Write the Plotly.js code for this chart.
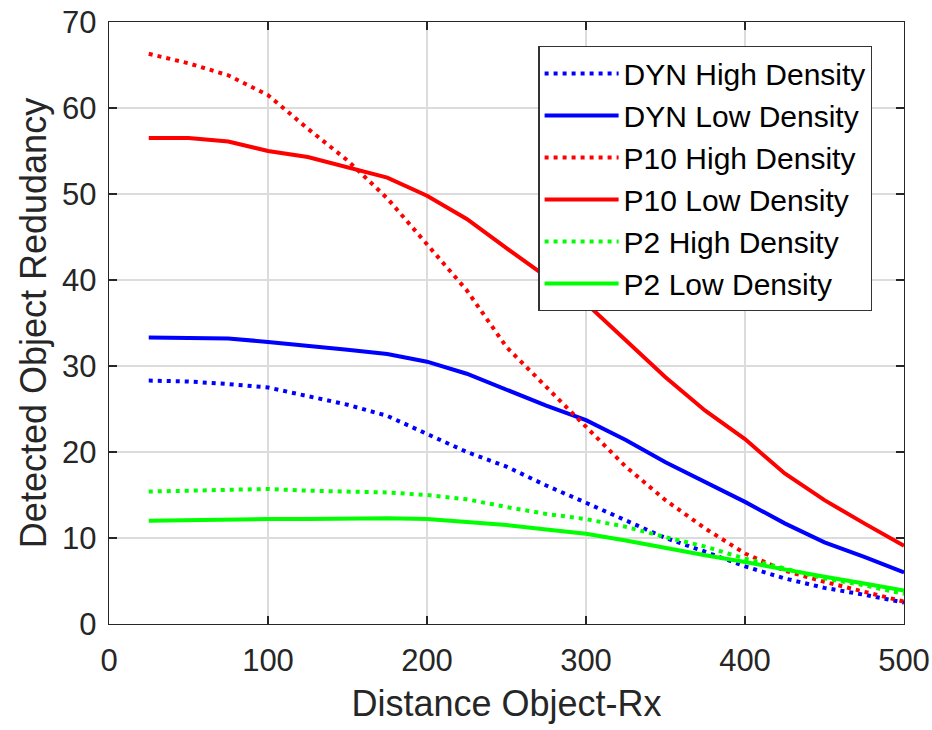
<!DOCTYPE html>
<html>
<head>
<meta charset="utf-8">
<script src="https://cdn.plot.ly/plotly-3.0.1.min.js"></script>
<style>html,body{margin:0;padding:0;background:#fff;}#chart{width:932px;height:730px;}</style>
</head>
<body>
<div id="chart"></div>
<script>
const distance = [25, 50, 75, 100, 125, 150, 175, 200, 225, 250, 275, 300, 325, 350, 375, 400, 425, 450, 475, 500];
const dynHigh = [28.3, 28.2, 27.9, 27.5, 26.5, 25.5, 24.2, 22.1, 20.0, 18.3, 16.1, 14.1, 12.1, 10.0, 8.4, 6.7, 5.3, 4.2, 3.4, 2.5];
const dynLow  = [33.3, 33.3, 33.2, 32.8, 32.4, 31.9, 31.4, 30.5, 29.1, 27.2, 25.4, 23.7, 21.4, 18.8, 16.5, 14.2, 11.7, 9.5, 7.8, 6.0];
const p10High = [66.3, 65.2, 63.8, 61.5, 57.6, 53.9, 49.5, 44.2, 38.8, 32.2, 27.6, 22.9, 18.3, 14.4, 11.1, 8.2, 6.2, 4.9, 3.7, 2.6];
const p10Low  = [56.5, 56.5, 56.1, 55.0, 54.3, 53.1, 51.9, 49.8, 47.1, 43.7, 40.4, 37.3, 33.0, 28.7, 24.8, 21.5, 17.5, 14.4, 11.7, 9.1];
const p2High  = [15.4, 15.5, 15.6, 15.7, 15.5, 15.4, 15.3, 15.0, 14.5, 13.6, 12.8, 12.2, 11.3, 10.1, 9.0, 7.6, 6.4, 5.3, 4.5, 3.5];
const p2Low   = [12.0, 12.1, 12.2, 12.2, 12.2, 12.3, 12.3, 12.2, 11.9, 11.5, 11.0, 10.5, 9.7, 8.8, 8.0, 7.2, 6.3, 5.5, 4.7, 3.9];
const seriesNames = ['DYN High Density', 'DYN Low Density', 'P10 High Density', 'P10 Low Density', 'P2 High Density', 'P2 Low Density'];
const xTickVals = [0, 100, 200, 300, 400, 500];
const yTickVals = [0, 10, 20, 30, 40, 50, 60, 70];

const seriesData = [dynHigh, dynLow, p10High, p10Low, p2High, p2Low];
const colors = ['#0000ff', '#0000ff', '#ff0000', '#ff0000', '#00ff00', '#00ff00'];
const dashes = ['4px,5px', 'solid', '4px,5px', 'solid', '4px,5px', 'solid'];

const traces = seriesData.map((ys, i) => ({
  x: distance, y: ys, name: seriesNames[i], type: 'scatter', mode: 'lines',
  line: {color: colors[i], width: 4, dash: dashes[i]}
}));

const FONT = 'Liberation Sans, Arial, Helvetica, sans-serif';
const TXT = '#262626';
const layout = {
  width: 932, height: 730,
  margin: {l: 109, r: 28, t: 22, b: 106},
  paper_bgcolor: '#ffffff', plot_bgcolor: '#ffffff',
  font: {family: FONT, color: TXT, size: 31},
  showlegend: true,
  legend: {
    x: 0.540, y: 0.960, xanchor: 'left', yanchor: 'top',
    bgcolor: '#ffffff', bordercolor: '#333333', borderwidth: 1.3,
    font: {family: FONT, size: 30, color: '#000000'},
    itemwidth: 74, tracegroupgap: 0
  },
  xaxis: {
    range: [0, 500], tickvals: xTickVals, ticks: 'inside', ticklen: 8, tickwidth: 1.3, tickcolor: TXT,
    showline: true, linecolor: TXT, linewidth: 1.3, mirror: 'ticks',
    showgrid: true, gridcolor: '#dcdcdc', gridwidth: 1.2, zeroline: false,
    tickfont: {family: FONT, size: 31, color: TXT}, ticklabelstandoff: 8,
    title: {text: 'Distance Object-Rx', font: {family: FONT, size: 36, color: TXT}, standoff: 14}
  },
  yaxis: {
    range: [0, 70], tickvals: yTickVals, ticks: 'inside', ticklen: 8, tickwidth: 1.3, tickcolor: TXT,
    showline: true, linecolor: TXT, linewidth: 1.3, mirror: 'ticks',
    showgrid: true, gridcolor: '#dcdcdc', gridwidth: 1.2, zeroline: false,
    tickfont: {family: FONT, size: 31, color: TXT}, ticklabelstandoff: 5,
    title: {text: 'Detected Object Redudancy', font: {family: FONT, size: 36, color: TXT}, standoff: 4}
  }
};

Plotly.newPlot('chart', traces, layout, {displayModeBar: false, staticPlot: true});
</script>
</body>
</html>
